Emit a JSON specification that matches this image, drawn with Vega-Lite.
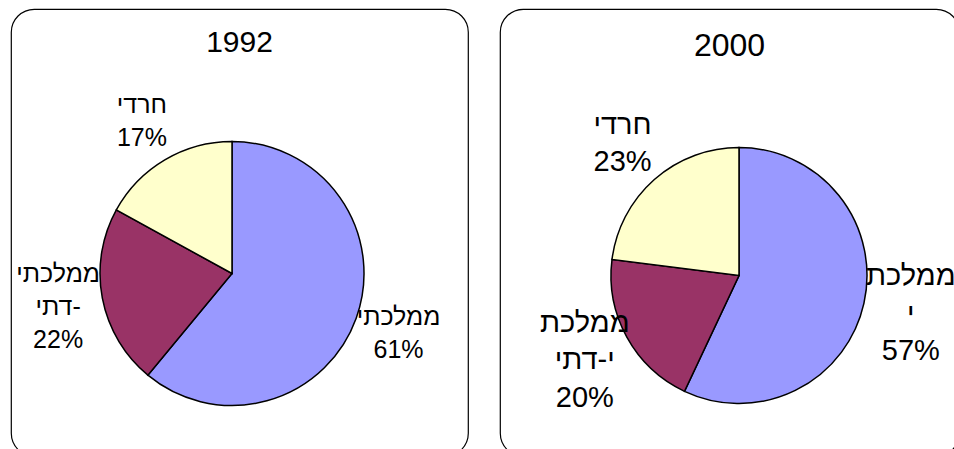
{
  "$schema": "https://vega.github.io/schema/vega-lite/v6.json",
  "padding": {"left": 10, "top": 8, "right": 0, "bottom": 0},
  "spacing": 30,
  "background": "white",
  "config": {
    "font": "Liberation Sans",
    "view": {"stroke": "#000", "strokeWidth": 1.2, "cornerRadius": 23}
  },
  "datasets": {
    "shares": [
      {"year": 1992, "ord": 1, "sector": "ממלכתי", "pct": 61, "label": "ממלכתי\n61%"},
      {"year": 1992, "ord": 2, "sector": "ממלכתי-דתי", "pct": 22, "label": "ממלכתי\nדתי-\n22%"},
      {"year": 1992, "ord": 3, "sector": "חרדי", "pct": 17, "label": "חרדי\n17%"},
      {"year": 2000, "ord": 1, "sector": "ממלכתי", "pct": 57, "label": "ממלכת\nי\n57%"},
      {"year": 2000, "ord": 2, "sector": "ממלכתי-דתי", "pct": 20, "label": "ממלכת\nי-דתי\n20%"},
      {"year": 2000, "ord": 3, "sector": "חרדי", "pct": 23, "label": "חרדי\n23%"}
    ]
  },
  "data": {"name": "shares"},
  "hconcat": [
    {
      "width": 457,
      "height": 447,
      "title": {"text": "1992", "fontSize": 30, "fontWeight": "normal", "font": "Liberation Sans", "baseline": "alphabetic", "offset": -73, "anchor": "middle", "color": "#000"},
      "transform": [{"filter": "datum.year == 1992"}],
      "encoding": {
        "x": {"datum": 0.4836, "type": "quantitative", "scale": {"domain": [0, 1]}, "axis": null},
        "y": {"datum": 0.5917, "type": "quantitative", "scale": {"domain": [0, 1], "reverse": true}, "axis": null},
        "theta": {"field": "pct", "type": "quantitative", "stack": true},
        "order": {"field": "ord", "type": "quantitative"}
      },
      "layer": [
        {
          "mark": {"type": "arc", "outerRadius": 132, "stroke": "#000", "strokeWidth": 1.5},
          "encoding": {
            "color": {"field": "sector", "type": "nominal", "legend": null,
              "scale": {"domain": ["ממלכתי", "ממלכתי-דתי", "חרדי"], "range": ["#9999FF", "#993366", "#FFFFCC"]}}
          }
        },
        {
          "mark": {"type": "text", "radius": 177, "fontSize": 25, "lineBreak": "\n", "lineHeight": 33, "align": "center", "baseline": "middle", "color": "#000",
            "dy": {"expr": "-(length(split(datum.label, '\\n')) - 1) * 16.5"}},
          "encoding": {
            "text": {"field": "label", "type": "nominal"}
          }
        }
      ]
    },
    {
      "width": 459,
      "height": 447,
      "title": {"text": "2000", "fontSize": 32, "fontWeight": "normal", "font": "Liberation Sans", "baseline": "alphabetic", "offset": -79, "anchor": "middle", "color": "#000"},
      "transform": [{"filter": "datum.year == 2000"}],
      "encoding": {
        "x": {"datum": 0.5207, "type": "quantitative", "scale": {"domain": [0, 1]}, "axis": null},
        "y": {"datum": 0.5962, "type": "quantitative", "scale": {"domain": [0, 1], "reverse": true}, "axis": null},
        "theta": {"field": "pct", "type": "quantitative", "stack": true},
        "order": {"field": "ord", "type": "quantitative"}
      },
      "layer": [
        {
          "mark": {"type": "arc", "outerRadius": 128, "stroke": "#000", "strokeWidth": 1.5},
          "encoding": {
            "color": {"field": "sector", "type": "nominal", "legend": null,
              "scale": {"domain": ["ממלכתי", "ממלכתי-דתי", "חרדי"], "range": ["#9999FF", "#993366", "#FFFFCC"]}}
          }
        },
        {
          "mark": {"type": "text", "radius": 176, "fontSize": 29, "lineBreak": "\n", "lineHeight": 37.5, "align": "center", "baseline": "middle", "color": "#000",
            "dy": {"expr": "-(length(split(datum.label, '\\n')) - 1) * 18.75"}},
          "encoding": {
            "text": {"field": "label", "type": "nominal"}
          }
        }
      ]
    }
  ]
}
